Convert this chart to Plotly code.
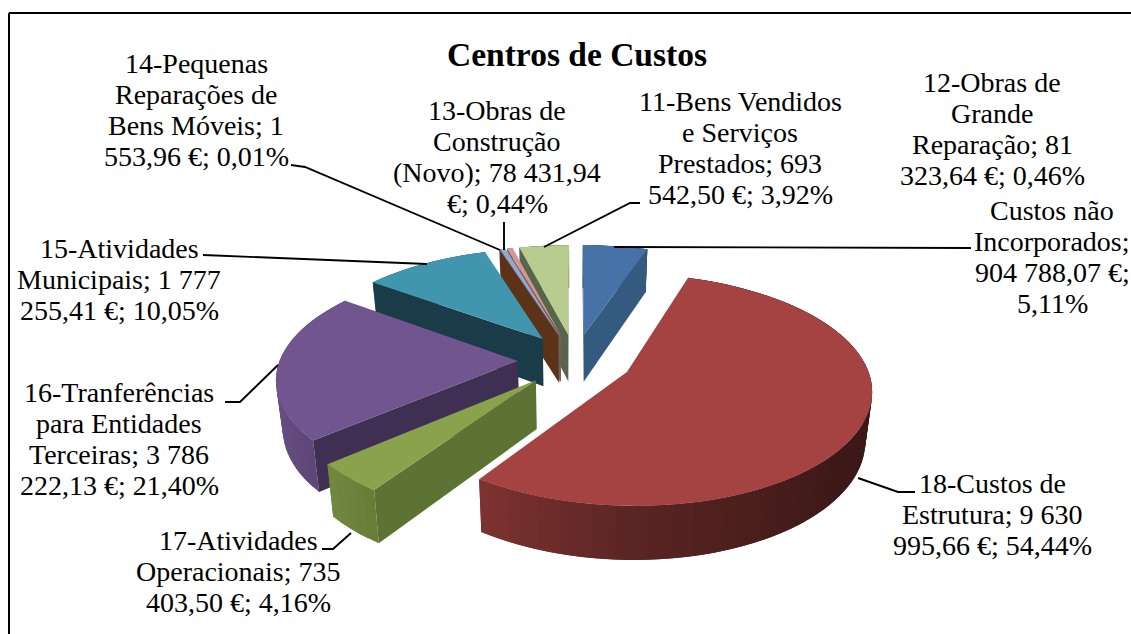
import numpy as np
import plotly.graph_objects as go

# ---- data -------------------------------------------------------------
categories = ["Custos não Incorporados", "18-Custos de Estrutura", "17-Atividades Operacionais",
              "16-Tranferências para Entidades Terceiras", "15-Atividades Municipais",
              "14-Pequenas Reparações de Bens Móveis", "13-Obras de Construção (Novo)",
              "12-Obras de Grande Reparação", "11-Bens Vendidos e Serviços Prestados"]
values = [904788.07, 9630995.66, 735403.50, 3786222.13, 1777255.41, 1553.96, 78431.94, 81323.64, 693542.50]
top_colors = ["#4672A8", "#A44341", "#88A34B", "#70558E", "#3F96AE", "#D8823A", "#92A9D0", "#D29795", "#B7CC8E"]
side_colors = ["#345A80", "#5A2422", "#5C7333", "#3F2F52", "#1A3B48", "#5C3316", "#5A6A85", "#7F5A58", "#57654A"]
labels = [["Custos não", "Incorporados;", "904 788,07 €;", "5,11%"],
          ["18-Custos de", "Estrutura; 9 630", "995,66 €; 54,44%"],
          ["17-Atividades", "Operacionais; 735", "403,50 €; 4,16%"],
          ["16-Tranferências", "para Entidades", "Terceiras; 3 786", "222,13 €; 21,40%"],
          ["15-Atividades", "Municipais; 1 777", "255,41 €; 10,05%"],
          ["14-Pequenas", "Reparações de", "Bens Móveis; 1", "553,96 €; 0,01%"],
          ["13-Obras de", "Construção", "(Novo); 78 431,94", "€; 0,44%"],
          ["12-Obras de", "Grande", "Reparação; 81", "323,64 €; 0,46%"],
          ["11-Bens Vendidos", "e Serviços", "Prestados; 693", "542,50 €; 3,92%"]]
label_pos = [(1052, 210), (992, 483), (238, 540), (119, 392), (119, 248), (196, 63), (497, 110), (992, 82), (740, 101)]

# ---- projection parameters ---------------------------------------------
CX, CY, R, RK, PX, PY, PD, DEPTH, EXPL, TAPER = 575, 360, 238, 110, 0.14, 0.15, 0.10, 48, 0.24, 0.023
LINE_STEP = 31.3
W, H = 1131, 634


def project(u, v, down=0.0):
    x = CX + R * u / (1 - PX * v)
    y = CY + RK * v / (1 - PY * v) + DEPTH * down / (1 - PD * v)
    return CX + (x - CX) * (1 - TAPER * down), y


def shade(hex_color, f):
    c = [int(hex_color[i:i + 2], 16) for i in (1, 3, 5)]
    c = [int(min(255, x * min(f, 1.0))) for x in c]
    return "#%02x%02x%02x" % tuple(c)


fig = go.Figure()


def poly(xs, ys, color, name):
    fig.add_trace(go.Scatter(x=list(xs) + [xs[0]], y=list(ys) + [ys[0]], mode="lines", fill="toself",
                             fillcolor=color, line=dict(color=color, width=0), hoverinfo="skip",
                             showlegend=False, name=name))


shares = np.array(values) / np.sum(values)
edges = np.concatenate([[0], np.cumsum(shares)]) * 2 * np.pi
draw_order = [8, 7, 6, 5, 0, 4, 3, 2, 1]

for i in draw_order:
    a0, a1 = edges[i], edges[i + 1]
    mid = (a0 + a1) / 2
    ox, oy = EXPL * np.sin(mid), -EXPL * np.cos(mid)
    n = max(2, int((a1 - a0) / 0.04))
    th = np.linspace(a0, a1, n)
    ru, rv = ox + np.sin(th), oy - np.cos(th)
    # outer wall, shaded left to right; each strip runs under the next one
    for j in range(n - 1):
        e = min(j + 2, n - 1)
        x0, y0 = project(ru[j], rv[j]); x1, y1 = project(ru[e], rv[e])
        x2, y2 = project(ru[e], rv[e], 1); x3, y3 = project(ru[j], rv[j], 1)
        us = (np.sin(th[j]) + np.sin(th[j + 1])) / 2
        f = 0.55 - 0.38 * us if us < 0 else 0.55 - 0.22 * us
        poly([x0, x1, x2, x3], [y0, y1, y2, y3], shade(top_colors[i], max(f, 0.37)), categories[i])
    # radial faces: only those whose extrusion falls outside the top face
    ax, ay = project(ox, oy)
    mx, my = project(ox + np.sin(mid), oy - np.cos(mid))
    for k in (0, -1):
        bx, by = project(ru[k], rv[k])
        cx, cy = project(ru[k], rv[k], 1); dx, dy = project(ox, oy, 1)
        side_in = (bx - ax) * (my - ay) - (by - ay) * (mx - ax)
        side_down = (bx - ax) * (dy - ay) - (by - ay) * (dx - ax)
        if side_in * side_down < 0:
            poly([ax, bx, cx, dx], [ay, by, cy, dy], side_colors[i], categories[i])
    # top face
    pts = [project(ox, oy)] + [project(a, b) for a, b in zip(ru, rv)]
    poly([p[0] for p in pts], [p[1] for p in pts], top_colors[i], categories[i])

# ---- leader lines ------------------------------------------------------
leaders = [
    [(971, 248), (614, 247)],
    [(915, 492), (898, 492), (858, 478)],
    [(322, 549), (333, 549), (351, 533)],
    [(225, 402), (240, 402), (278, 365)],
    [(203, 255), (427, 264)],
    [(291, 165), (305, 167), (500, 250)],
    [(504, 222), (504, 250)],
    [(640, 203), (630, 203), (544, 247)],
]
for seg in leaders:
    fig.add_trace(go.Scatter(x=[p[0] for p in seg], y=[p[1] for p in seg], mode="lines",
                             line=dict(color="#000000", width=1.9), hoverinfo="skip", showlegend=False))

annotations = []
for (x, y), lines in zip(label_pos, labels):
    for n, t in enumerate(lines):
        annotations.append(dict(x=x, y=y + n * LINE_STEP, xref="x", yref="y", text=t, showarrow=False,
                                xanchor="center", yanchor="middle", align="center",
                                font=dict(family="Liberation Serif", size=28, color="#000000")))

fig.update_layout(
    width=W, height=H, autosize=False, margin=dict(l=0, r=0, t=0, b=0),
    paper_bgcolor="#FFFFFF", plot_bgcolor="#FFFFFF", showlegend=False,
    title=dict(text="<b>Centros de Custos</b>", x=577 / W, y=1 - 54 / H,
               xanchor="center", yanchor="middle",
               font=dict(family="Liberation Serif", size=33.5, color="#000000")),
    xaxis=dict(range=[0, W], visible=False, fixedrange=True),
    yaxis=dict(range=[H, 0], visible=False, fixedrange=True),
    annotations=annotations,
    shapes=[dict(type="line", x0=9, y0=13, x1=W, y1=13, xref="x", yref="y", line=dict(color="#000000", width=2)),
            dict(type="line", x0=9, y0=13, x1=9, y1=H, xref="x", yref="y", line=dict(color="#000000", width=2))],
)
fig.write_html("out.html", config={"displayModeBar": False},
               post_script="document.body.style.margin='0';document.documentElement.style.overflow='hidden';")
